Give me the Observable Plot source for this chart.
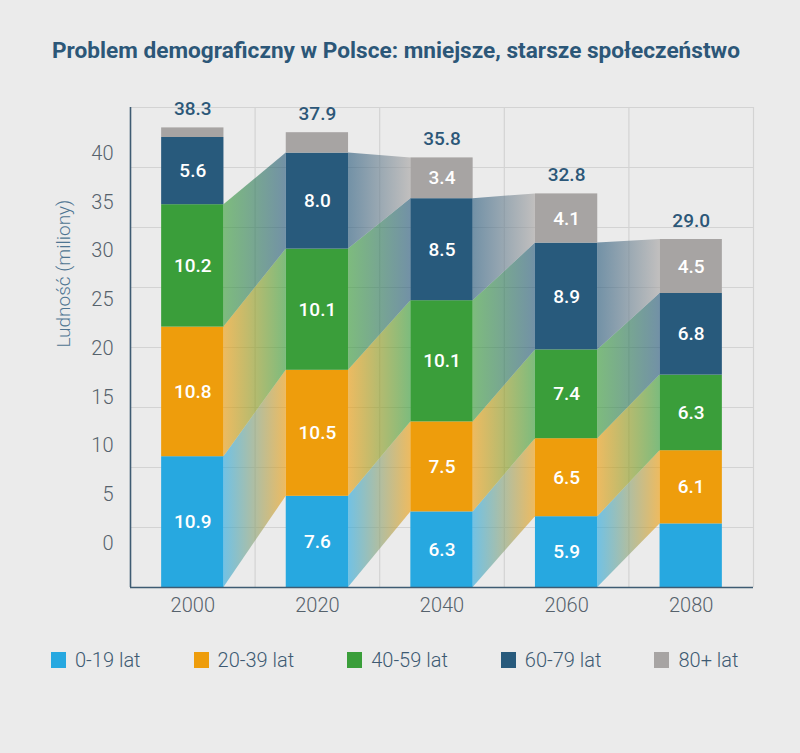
<!DOCTYPE html>
<html><head><meta charset="utf-8">
<script src="https://cdn.jsdelivr.net/npm/d3@7"></script>
<script src="https://cdn.jsdelivr.net/npm/@observablehq/plot@0.6"></script>
<style>
body{margin:0;background:#ebebeb;}
#wrap{position:relative;width:800px;height:753px;background:#ebebeb;font-family:Roboto,sans-serif;overflow:hidden}
#title{position:absolute;left:0;top:0}
#chart{position:absolute;left:0;top:80px}
#legend{position:absolute;left:51px;top:648px;display:flex;gap:53px;align-items:center}
.item{display:flex;align-items:center;font-size:20px;font-weight:300;color:#3d5a72;line-height:24px}
.sw{width:15px;height:16px;margin-right:9px;display:inline-block}
</style></head>
<body><div id="wrap">
<svg id="title" width="800" height="80"><text x="52" y="57.5" font-family="Roboto" font-weight="700" font-size="22" fill="#2c5778" textLength="688" lengthAdjust="spacingAndGlyphs">Problem demograficzny w Polsce: mniejsze, starsze społeczeństwo</text></svg>
<div id="chart"></div>
<div id="legend"></div>
</div>
<script>
const years = [2000, 2020, 2040, 2060, 2080];
const groups = ["0-19 lat", "20-39 lat", "40-59 lat", "60-79 lat", "80+ lat"];
const v0_19  = [10.9, 7.6, 6.3, 5.9, 5.3];
const v20_39 = [10.8, 10.5, 7.5, 6.5, 6.1];
const v40_59 = [10.2, 10.1, 10.1, 7.4, 6.3];
const v60_79 = [5.6, 8.0, 8.5, 8.9, 6.8];
const v80    = [0.8, 1.7, 3.4, 4.1, 4.5];
const totals = [38.3, 37.9, 35.8, 32.8, 29.0];
const colors = ["#27a8e0", "#ee9d0c", "#3a9e3a", "#285a7c", "#a7a4a3"];
const yTickLabels = [0, 5, 10, 15, 20, 25, 30, 35, 40];
const hiddenLabels = [["80+ lat", 2000], ["80+ lat", 2020], ["0-19 lat", 2080]];
const series = [v0_19, v20_39, v40_59, v60_79, v80];

// stacked segments
const segs = [];
years.forEach((yr, i) => {
  let acc = 0;
  series.forEach((s, k) => {
    segs.push({year: yr, i, k, group: groups[k], value: s[i], y1: acc, y2: acc + s[i]});
    acc += s[i];
  });
});
const seg = (i, k) => segs.find(d => d.i === i && d.k === k);
const half = 5;

// cohort connectors: group k at year i -> group k+1 at year i+1
const connectors = [];
for (let i = 0; i < years.length - 1; i++) {
  for (let k = 0; k < 4; k++) {
    if (k === 3 && i === 0) continue;
    const a = seg(i, k), b = seg(i + 1, k + 1);
    connectors.push({id: `g${i}_${k}`, k, pts: [
      {x: years[i] + half, lo: a.y1, hi: a.y2},
      {x: years[i + 1] - half, lo: b.y1, hi: b.y2}
    ]});
  }
}

const defsMark = () => {
  const defs = d3.create("svg:defs");
  connectors.forEach(c => {
    const g = defs.append("linearGradient").attr("id", c.id)
      .attr("x1", "0%").attr("x2", "100%").attr("y1", "0%").attr("y2", "0%");
    g.append("stop").attr("offset", "0%").attr("stop-color", colors[c.k]).attr("stop-opacity", 0.62);
    g.append("stop").attr("offset", "100%").attr("stop-color", colors[c.k + 1]).attr("stop-opacity", 0.62);
  });
  return defs.node();
};

const labelSegs = segs.filter(d => !hiddenLabels.some(([g, y]) => g === d.group && y === d.year));
const totalRows = years.map((y, i) => ({year: y, total: totals[i]}));
const gridX = d3.range(years[0] - 10, years[years.length - 1] + 11, 20);

const chart = Plot.plot({
  width: 800, height: 560,
  marginLeft: 130, marginRight: 47, marginTop: 27, marginBottom: 53,
  style: {background: "transparent", fontFamily: "Roboto, sans-serif", overflow: "visible"},
  x: {type: "linear", domain: [gridX[0], gridX[gridX.length - 1]], axis: null},
  y: {domain: [0, 40], axis: null},
  color: {domain: groups, range: colors},
  marks: [
    defsMark,
    Plot.ruleY(d3.range(5, 41, 5), {stroke: "#d3d3d3", strokeWidth: 1.2}),
    Plot.ruleX(gridX.slice(1), {stroke: "#d3d3d3", strokeWidth: 1.2}),
    ...connectors.map(c => Plot.area(c.pts, {x1: "x", y1: "lo", y2: "hi", fill: `url(#${c.id})`})),
    Plot.rectY(segs, {x1: d => d.year - half, x2: d => d.year + half, y1: "y1", y2: "y2", fill: "group"}),
    Plot.ruleX([gridX[0]], {stroke: "#3e5b72", strokeWidth: 1.6}),
    Plot.ruleY([0], {stroke: "#3e5b72", strokeWidth: 1.6}),
    Plot.text(labelSegs, {x: "year", y: d => (d.y1 + d.y2) / 2, text: d => d.value.toFixed(1),
      fill: "white", fontSize: 19, fontWeight: 500}),
    Plot.text(totalRows, {x: "year", y: "total", text: d => d.total.toFixed(1), dy: -19,
      fill: "#2c5778", fontSize: 19, fontWeight: 500}),
    Plot.text(yTickLabels, {y: d => 3.67 + d * 0.8125, text: d => String(d), frameAnchor: "left",
      dx: -17, textAnchor: "end", fill: "#56626c", fontSize: 20, fontWeight: 300}),
    Plot.text(years, {x: d => d, text: d => String(d), frameAnchor: "bottom", dy: 24,
      fill: "#56626c", fontSize: 20, fontWeight: 300}),
    Plot.text(["Ludność (miliony)"], {frameAnchor: "left", dx: -67, rotate: -90,
      fill: "#4f7592", fontSize: 19, fontWeight: 300})
  ]
});
document.getElementById("chart").appendChild(chart);

const legend = document.getElementById("legend");
groups.forEach((g, k) => {
  const it = document.createElement("div");
  it.className = "item";
  it.innerHTML = `<span class="sw" style="background:${colors[k]}"></span><span>${g}</span>`;
  legend.appendChild(it);
});
</script>
</body></html>
